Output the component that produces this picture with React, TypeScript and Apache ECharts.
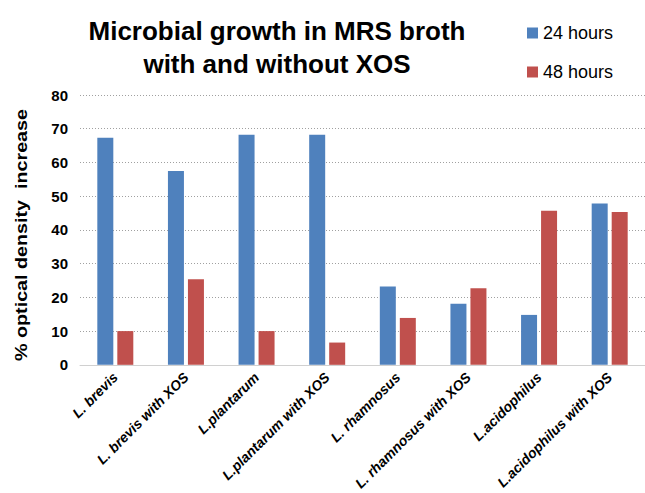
import React, { useEffect, useRef } from "react";
import * as echarts from "echarts";

const categories = [
  "L. brevis",
  "L. brevis with XOS",
  "L.plantarum",
  "L.plantarum with XOS",
  "L. rhamnosus",
  "L. rhamnosus with XOS",
  "L.acidophilus",
  "L.acidophilus with XOS",
];
const hours24 = [67.3, 57.5, 68.2, 68.2, 23.2, 18.1, 14.8, 47.8];
const hours48 = [10.0, 25.4, 10.0, 6.6, 13.9, 22.7, 45.7, 45.3];
const seriesNames = ["24 hours", "48 hours"];
const titleLines = ["Microbial growth in MRS broth", "with and without XOS"];
const yAxisTitle = "% optical density  increase";

export default function App() {
  const ref = useRef<HTMLDivElement>(null);
  useEffect(() => {
    if (!ref.current) return;
    const chart = echarts.init(ref.current, null, { renderer: "svg" });
    chart.setOption({
      animation: false,
      backgroundColor: "#ffffff",
      textStyle: { fontFamily: "Liberation Sans, Arial, sans-serif" },
      title: {
        text: titleLines.join("\n"),
        left: 272,
        top: 9,
        textAlign: "center",
        textStyle: {
          fontSize: 26,
          fontWeight: "bold",
          color: "#000000",
          lineHeight: 33,
          fontFamily: "Liberation Sans, Arial, sans-serif",
        },
      },
      legend: {
        orient: "vertical",
        left: 522,
        top: 19,
        itemWidth: 11,
        itemHeight: 11,
        itemGap: 21,
        icon: "rect",
        textStyle: { fontSize: 18, color: "#000000" },
        data: seriesNames,
      },
      graphic: [
        {
          type: "text",
          x: 21,
          y: 235,
          rotation: Math.PI / 2,
          scaleX: 1.16,
          style: {
            text: yAxisTitle,
            font: "bold 17px 'Liberation Sans', Arial, sans-serif",
            fill: "#000000",
            align: "center",
            verticalAlign: "middle",
          },
        },
      ],
      grid: { left: 80, top: 95, width: 571, height: 273.5, containLabel: false },
      xAxis: {
        type: "category",
        data: categories,
        axisTick: { show: false },
        axisLine: { lineStyle: { color: "#d0d0d0", width: 1 } },
        axisLabel: {
          rotate: 45,
          interval: 0,
          margin: 10,
          fontSize: 14,
          fontWeight: "bold",
          fontStyle: "italic",
          color: "#000000",
        },
      },
      yAxis: {
        type: "value",
        min: 0,
        max: 80,
        interval: 10,
        axisLine: { show: false },
        axisTick: { show: false },
        axisLabel: { fontSize: 15, fontWeight: "bold", color: "#000000", margin: 12 },
        splitLine: { lineStyle: { color: "#a0a0a0", type: [1, 2], width: 1 } },
      },
      series: [
        {
          name: seriesNames[0],
          type: "bar",
          data: hours24,
          barWidth: 16,
          barGap: "25%",
          itemStyle: { color: "#4F81BD" },
        },
        {
          name: seriesNames[1],
          type: "bar",
          data: hours48,
          barWidth: 16,
          barGap: "25%",
          itemStyle: { color: "#C0504D" },
        },
      ],
    });
    return () => chart.dispose();
  }, []);
  return (
    <div
      ref={ref}
      style={{ position: "fixed", left: 0, top: 0, width: 645, height: 493, background: "#fff" }}
    />
  );
}
